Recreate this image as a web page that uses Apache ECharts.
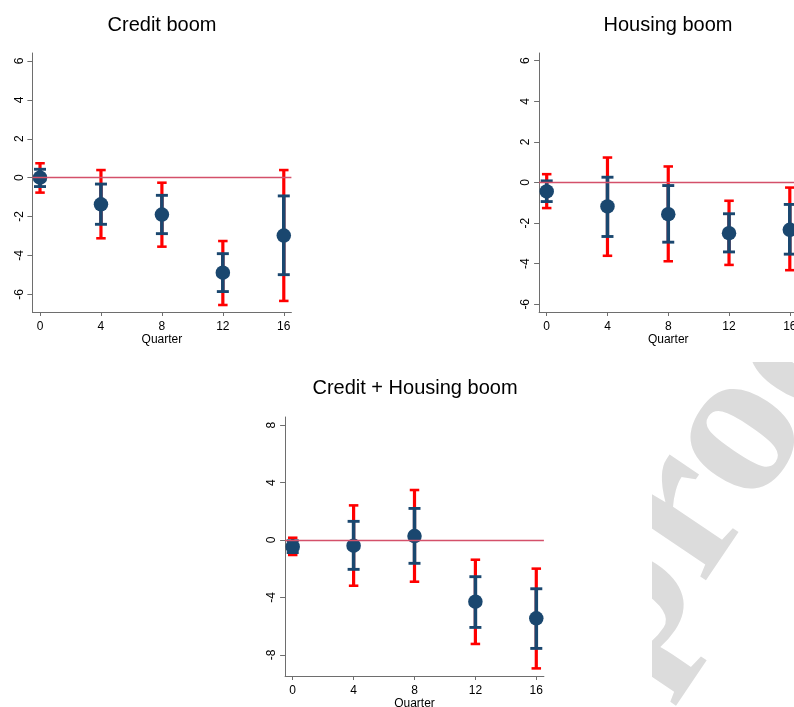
<!DOCTYPE html>
<html><head><meta charset="utf-8">
<script src="https://cdn.jsdelivr.net/npm/echarts@6/dist/echarts.min.js"></script>
<style>html,body{margin:0;padding:0;background:#fff;overflow:hidden}#c{width:794px;height:707px}</style>
</head><body><div id="c"></div>
<script>
// ---- data ----
const quarters = [0, 4, 8, 12, 16];
const xTicks = [0, 4, 8, 12, 16];

const creditEst  = [0.00, -1.37, -1.90, -4.89, -2.98];
const creditLo95 = [-0.77, -3.12, -3.55, -6.55, -6.34];
const creditHi95 = [0.74, 0.39, -0.26, -3.26, 0.39];
const creditLo90 = [-0.46, -2.40, -2.88, -5.86, -4.99];
const creditHi90 = [0.43, -0.33, -0.91, -3.91, -0.94];
const creditYTicks = [-6, -4, -2, 0, 2, 4, 6];

const housingEst  = [-0.44, -1.18, -1.56, -2.50, -2.33];
const housingLo95 = [-1.26, -3.61, -3.88, -4.06, -4.32];
const housingHi95 = [0.41, 1.23, 0.79, -0.90, -0.25];
const housingLo90 = [-0.94, -2.66, -2.94, -3.42, -3.53];
const housingHi90 = [0.08, 0.26, -0.15, -1.54, -1.08];
const housingYTicks = [-6, -4, -2, 0, 2, 4, 6];

const bothEst  = [-0.46, -0.39, 0.28, -4.29, -5.45];
const bothLo95 = [-1.04, -3.18, -2.90, -7.23, -8.93];
const bothHi95 = [0.16, 2.41, 3.48, -1.37, -1.99];
const bothLo90 = [-0.87, -2.04, -1.62, -6.08, -7.54];
const bothHi90 = [-0.05, 1.30, 2.20, -2.55, -3.39];
const bothYTicks = [-8, -4, 0, 4, 8];

const titles = ['Credit boom', 'Housing boom', 'Credit + Housing boom'];
const xName = 'Quarter';
const watermark = 'proof';

// ---- layout ----
const FONT = 'Liberation Sans, Arial, sans-serif';
const NAVY = '#1a476f';
const RED = '#ff0000';
const ZERO = '#d4506a';
const AXIS = '#6e6e6e';

const panels = [
  {grid:{left:32.4, top:53, width:259, height:259}, ymin:-6.91, ymax:6.41, yt:creditYTicks,
   est:creditEst, lo95:creditLo95, hi95:creditHi95, lo90:creditLo90, hi90:creditHi90},
  {grid:{left:539.1, top:53, width:258.3, height:259}, ymin:-6.38, ymax:6.38, yt:housingYTicks,
   est:housingEst, lo95:housingLo95, hi95:housingHi95, lo90:housingLo90, hi90:housingHi90},
  {grid:{left:285.1, top:417, width:258.8, height:259}, ymin:-9.46, ymax:8.56, yt:bothYTicks,
   est:bothEst, lo95:bothLo95, hi95:bothHi95, lo90:bothLo90, hi90:bothHi90}
];

function errRender(capHalf, color, width) {
  return function (params, api) {
    const x = api.value(0), lo = api.value(1), hi = api.value(2);
    const p1 = api.coord([x, lo]), p2 = api.coord([x, hi]);
    const style = {stroke: color, lineWidth: width, lineCap: 'butt', fill: null};
    const capStyle = {stroke: color, lineWidth: width * 0.8, lineCap: 'butt', fill: null};
    return {type: 'group', children: [
      {type: 'line', shape: {x1: p1[0], y1: p1[1], x2: p2[0], y2: p2[1]}, style: style},
      {type: 'line', shape: {x1: p1[0] - capHalf, y1: p1[1], x2: p1[0] + capHalf, y2: p1[1]}, style: capStyle},
      {type: 'line', shape: {x1: p2[0] - capHalf, y1: p2[1], x2: p2[0] + capHalf, y2: p2[1]}, style: capStyle}
    ]};
  };
}

const grids = [], xAxes = [], yAxes = [], series = [];
panels.forEach((p, i) => {
  grids.push(Object.assign({outerBoundsMode: 'none', containLabel: false}, p.grid));
  xAxes.push({
    type: 'value', gridIndex: i, min: -0.5, max: 16.5,
    name: xName, nameLocation: 'middle', nameGap: 22,
    nameTextStyle: {fontFamily: FONT, fontSize: 12, color: '#000'},
    axisLine: {onZero: false, lineStyle: {color: AXIS, width: 1}},
    axisTick: {show: true, length: 4, customValues: xTicks, lineStyle: {color: AXIS}},
    axisLabel: {customValues: xTicks, fontFamily: FONT, fontSize: 12, color: '#000', margin: 9},
    splitLine: {show: false}
  });
  yAxes.push({
    type: 'value', gridIndex: i, min: p.ymin, max: p.ymax,
    axisLine: {show: true, onZero: false, lineStyle: {color: AXIS, width: 1}},
    axisTick: {show: true, length: 5, customValues: p.yt, lineStyle: {color: AXIS}},
    axisLabel: {customValues: p.yt, rotate: 90, fontFamily: FONT, fontSize: 12, color: '#000', margin: 7},
    splitLine: {show: false}
  });
  const d95 = quarters.map((q, k) => [q, p.lo95[k], p.hi95[k]]);
  const d90 = quarters.map((q, k) => [q, p.lo90[k], p.hi90[k]]);
  const dE = quarters.map((q, k) => [q, p.est[k]]);
  series.push({
    type: 'custom', xAxisIndex: i, yAxisIndex: i, renderItem: errRender(4.75, RED, 3.2),
    data: d95, encode: {x: 0, y: [1, 2]}, z: 2,
    markLine: {silent: true, symbol: ['none', 'none'], label: {show: false},
      lineStyle: {color: ZERO, width: 1.3, type: 'solid'}, data: [{yAxis: 0}]}
  });
  series.push({
    type: 'custom', xAxisIndex: i, yAxisIndex: i, renderItem: errRender(6, NAVY, 3.6),
    data: d90, encode: {x: 0, y: [1, 2]}, z: 3
  });
  series.push({
    type: 'scatter', xAxisIndex: i, yAxisIndex: i, data: dE, symbol: 'circle', symbolSize: 14.5,
    itemStyle: {color: NAVY, opacity: 1}, z: 4
  });
});

const chart = echarts.init(document.getElementById('c'), null, {renderer: 'canvas'});
chart.setOption({
  animation: false,
  backgroundColor: '#fff',
  grid: grids, xAxis: xAxes, yAxis: yAxes, series: series,
  graphic: [
    {type: 'text', x: 162, y: 25, style: {text: titles[0], font: '20px ' + FONT, fill: '#000', textAlign: 'center', textVerticalAlign: 'middle'}},
    {type: 'text', x: 668, y: 25, style: {text: titles[1], font: '20px ' + FONT, fill: '#000', textAlign: 'center', textVerticalAlign: 'middle'}},
    {type: 'text', x: 415, y: 388, style: {text: titles[2], font: '20px ' + FONT, fill: '#000', textAlign: 'center', textVerticalAlign: 'middle'}}
  ]
});

// clipped watermark, drawn beneath everything
const wmGroup = new echarts.graphic.Group({z: -1, silent: true});
const wmText = new echarts.graphic.Text({
  x: 591.5, y: 652, rotation: 0.977, z: -1, silent: true,
  style: {text: watermark, font: 'bold 212px "Liberation Serif", "DejaVu Serif", serif',
          fill: '#dcdcdc', align: 'left', verticalAlign: 'middle'}
});
wmGroup.add(wmText);
wmGroup.setClipPath(new echarts.graphic.Rect({shape: {x: 652, y: 362, width: 200, height: 400}}));
chart.getZr().add(wmGroup);
</script></body></html>
